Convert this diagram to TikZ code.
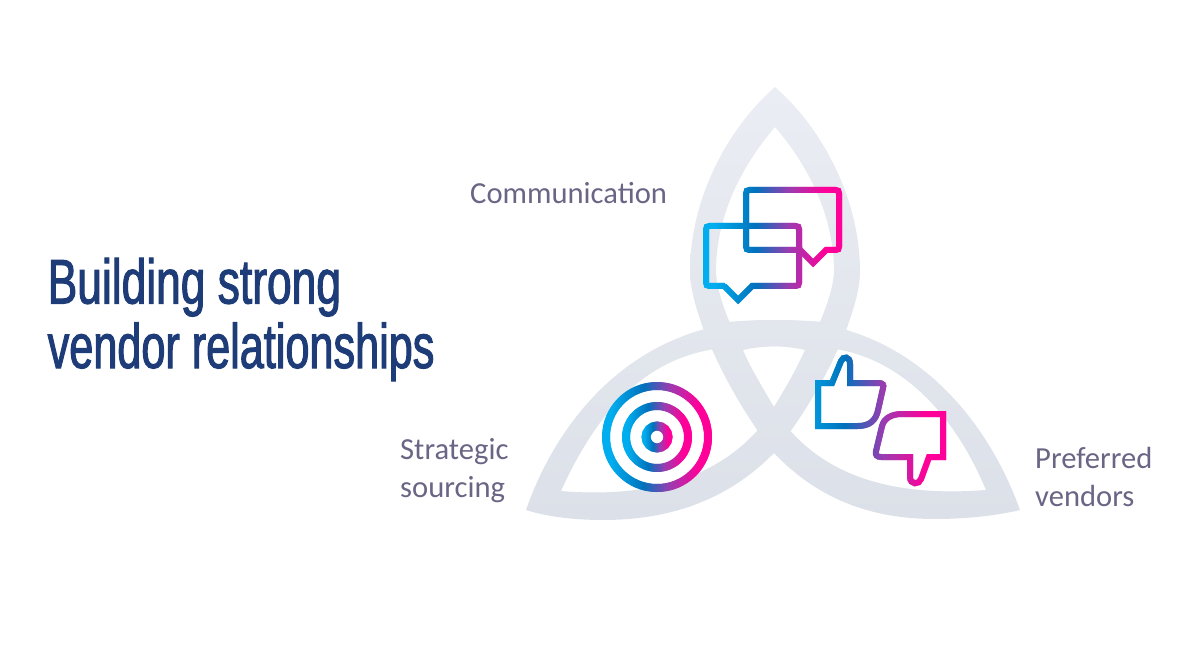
\documentclass[tikz,border=0pt]{standalone}
\usepackage{fontspec}
\setmainfont{Carlito}
\newfontfamily\titlefonta[FakeStretch=0.704,FakeBold=1.6]{Liberation Sans}
\newfontfamily\titlefontb[FakeStretch=0.686,FakeBold=1.6]{Liberation Sans}
\definecolor{ga}{HTML}{00AEEF}
\definecolor{gb}{HTML}{0072BC}
\definecolor{gc}{HTML}{9B3BB0}
\definecolor{gd}{HTML}{FF0098}
\definecolor{lt}{HTML}{EAEDF3}
\definecolor{lb}{HTML}{DCE0E8}
\definecolor{titlec}{HTML}{1D3C78}
\definecolor{labelc}{HTML}{6A6585}
\tikzset{
  labeltext/.style={anchor=base west,text=labelc,font=\fontsize{30.6}{38}\selectfont,inner sep=0pt},
  titletext/.style={anchor=base west,text=titlec,inner sep=0pt},
  ringline/.style={line width=8pt},
  coreline/.style={line width=9pt},
  iconline/.style={line width=6pt,line join=miter,miter limit=6}
}
% #1 style, #2 x0, #3 x1, #4 t0, #5 t1, #6 path
\newcommand\gradpath[6]{%
  \foreach \k in {0,...,200}{%
    \pgfmathsetmacro\xa{#2-4+\k*1.0}%
    \pgfmathparse{\xa<#3+4?1:0}%
    \ifnum\pgfmathresult=1
      \pgfmathsetmacro\tv{max(0,min(1,#4+(\xa+0.5-#2)/(#3-#2)*(#5-#4)))}%
      \ifdim\tv pt<0.38pt
        \pgfmathsetmacro\pc{max(0,(\tv-0.08)/0.30*100)}\colorlet{gx}{gb!\pc!ga}%
      \else\ifdim\tv pt<0.62pt
        \pgfmathsetmacro\pc{(\tv-0.38)/0.24*100}\colorlet{gx}{gc!\pc!gb}%
      \else
        \pgfmathsetmacro\pc{min(100,(\tv-0.62)/0.26*100)}\colorlet{gx}{gd!\pc!gc}%
      \fi\fi
      \begin{scope}
        \clip (\xa,0) rectangle (\xa+1.6,647);
        \draw[#1,gx] #6;
      \end{scope}
    \fi
  }%
}
\begin{document}
\begin{tikzpicture}[x=1pt,y=-1pt]
\useasboundingbox (0,0) rectangle (1200,647);
% top leaf
\shade[top color=lt,bottom color=lb!84!lt,even odd rule]
  (775,87) .. controls (730,126) and (690,196) .. (690,272)
  .. controls (690,310) and (725,390) .. (774,453)
  .. controls (825,390) and (860,310) .. (860,272)
  .. controls (860,196) and (820,126) .. (775,87) -- cycle
  (775,127) .. controls (745,162) and (716,212) .. (716,272)
  .. controls (718,312) and (756,377) .. (774,407)
  .. controls (792,377) and (832,312) .. (834,272)
  .. controls (834,212) and (805,162) .. (775,127) -- cycle;
% left leaf
\shade[top color=lb!53!lt,bottom color=lb,even odd rule]
  (526,510) .. controls (555,426) and (630,319.5) .. (775,320)
  .. controls (800,320) and (825,321.5) .. (848,325)
  .. controls (834,360) and (800,421) .. (774,453)
  .. controls (725,503) and (665,520) .. (603,520)
  .. controls (575,520) and (548,517) .. (526,510) -- cycle
  (561,491) .. controls (595,416) and (640,363) .. (709,350)
  .. controls (730,346) and (780,343.5) .. (805,350)
  .. controls (790,382) and (775,408) .. (756.5,431.5)
  .. controls (715,477) and (650,498.5) .. (561,491) -- cycle;
% right leaf
\shade[top color=lb!53!lt,bottom color=lb,even odd rule]
  (1020,510) .. controls (990,426) and (915,319.5) .. (775,320)
  .. controls (750,320) and (725,321.5) .. (702,325)
  .. controls (716,360) and (750,421) .. (774,453)
  .. controls (820,501.5) and (875,519) .. (935,519)
  .. controls (965,519) and (995,516) .. (1020,510) -- cycle
  (986,490) .. controls (955,416) and (905,363) .. (841,350)
  .. controls (820,346) and (770,343.5) .. (743,350)
  .. controls (756,382) and (770,408) .. (791,431.5)
  .. controls (832,477) and (895,497) .. (986,490) -- cycle;
% texts
\node[titletext,font=\titlefonta\fontsize{63}{63}\selectfont] (t1) at (47.5,303.5) {Building strong};
\node[titletext,font=\titlefontb\fontsize{63}{63}\selectfont] (t2) at (47.5,368) {vendor relationships};
\node[labeltext] (comm) at (470,203.6) {Communication};
\node[labeltext] (strat) at (400,459) {Strategic};
\node[labeltext] (sourc) at (400,497) {sourcing};
\node[labeltext] (pref) at (1035,468) {Preferred};
\node[labeltext] (vend) at (1035,506) {vendors};
% target
\gradpath{ringline}{602}{712}{0}{1}{(657,437) circle[radius=51]}
\gradpath{ringline}{622}{692}{0}{1}{(657,437) circle[radius=31]}
\gradpath{coreline}{642}{672}{0}{1}{(657,437) circle[radius=11]}
% chat bubbles
\gradpath{iconline}{703}{842}{0}{1}{(802,250) -- (749.5,250) .. controls (747,250) and (746,249) .. (746,246.5) -- (746,193.5) .. controls (746,191) and (747,190) .. (749.5,190) -- (835.5,190) .. controls (838,190) and (839,191) .. (839,193.5) -- (839,246.5) .. controls (839,249) and (838,250) .. (835.5,250) -- (826,250) -- (813,263) -- (800,250)}
\gradpath{iconline}{703}{842}{0}{1}{(725,286) -- (709.5,286) .. controls (707,286) and (706,285) .. (706,282.5) -- (706,229.5) .. controls (706,227) and (707,226) .. (709.5,226) -- (795.5,226) .. controls (798,226) and (799,227) .. (799,229.5) -- (799,282.5) .. controls (799,285) and (798,286) .. (795.5,286) -- (752,286) -- (738,300) -- (724,286)}
% thumbs
\gradpath{iconline}{815}{946}{0.2}{1}{(818,383) -- (832,383) -- (841,361) .. controls (843,356) and (850,356) .. (850,364) -- (850,383) -- (878,383) .. controls (883,383) and (884,385) .. (883,388) -- (878,410) .. controls (876,420) and (870,426) .. (858,426) -- (818,426) -- cycle}
\gradpath{iconline}{815}{946}{0.2}{1}{(943,414) -- (943,457) -- (929,457) -- (921,479) .. controls (919,485) and (910,485) .. (910,477) -- (910,457) -- (881,457) .. controls (877,457) and (875,455) .. (876,451) -- (882,426) .. controls (884,418) and (892,414) .. (902,414) -- cycle}
\end{tikzpicture}
\end{document}
